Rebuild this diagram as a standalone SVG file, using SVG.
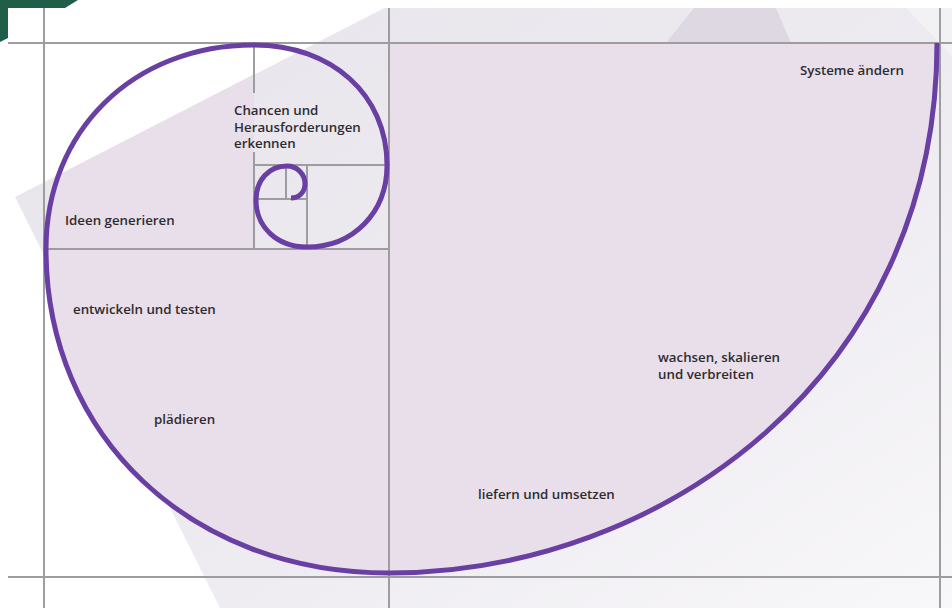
<svg xmlns="http://www.w3.org/2000/svg" width="952" height="608" viewBox="0 0 952 608">
  <defs>
    <linearGradient id="bgGrad" x1="0" y1="0" x2="1" y2="1">
      <stop offset="0" stop-color="#e7e4eb"/>
      <stop offset="0.6" stop-color="#eeecf1"/>
      <stop offset="1" stop-color="#f8f7f9"/>
    </linearGradient>
    <clipPath id="photo">
      <rect x="8" y="8" width="944" height="600"/>
    </clipPath>
    <clipPath id="diag">
      <polygon points="0,205 398,0 952,0 952,608 0,608"/>
    </clipPath>
    <style>
      .grid { stroke: #9d9d9f; stroke-width: 2; fill: none; }
      .spiral { stroke: #6a3fa3; stroke-width: 5; fill: none; stroke-linecap: butt; stroke-linejoin: round; }
      .lbl { font-family: "Open Sans", "DejaVu Sans", sans-serif; font-size: 13.3px; font-weight: 600; fill: #2f2c30; }
    </style>
  </defs>

  <rect x="0" y="0" width="952" height="608" fill="#ffffff"/>

  <g id="background" clip-path="url(#photo)">
    <polygon points="15,197 400,0 952,0 952,608 220,608" fill="url(#bgGrad)"/>
    <polygon points="666,43 694,8 776,8 791,43" fill="#ddd8e2"/>
    <polygon points="906,8 952,8 952,56" fill="#f2f1f4"/>
    <g clip-path="url(#diag)">
      <path d="M937,43 C937,375 663,573 389,573 C191,573 46,437 46,249 C46,131 133,45 254,45 L254,249 L389,249 L389,43 Z" fill="#e8dfea"/>
    </g>
  </g>

  <g id="grid">
    <line class="grid" x1="44" y1="8" x2="44" y2="608"/>
    <line class="grid" x1="389" y1="8" x2="389" y2="608"/>
    <line class="grid" x1="940" y1="8" x2="940" y2="608"/>
    <line class="grid" x1="8" y1="43" x2="952" y2="43"/>
    <line class="grid" x1="8" y1="577" x2="952" y2="577"/>
    <line class="grid" x1="44" y1="249" x2="389" y2="249"/>
    <line class="grid" x1="254" y1="43" x2="254" y2="93"/>
    <line class="grid" x1="254" y1="152" x2="254" y2="249"/>
    <line class="grid" x1="254" y1="165" x2="389" y2="165"/>
    <line class="grid" x1="307" y1="165" x2="307" y2="249"/>
    <line class="grid" x1="254" y1="199" x2="307" y2="199"/>
    <line class="grid" x1="286" y1="165" x2="286" y2="199"/>
  </g>

  <g id="connectors">
    <path class="spiral" d="M937,43 C937,375 663,573 389,573 C191,573 46,437 46,249 C46,131 133,45 254,45 C332,45 387,95 387,165 C387,213 353,247 307,247 C277,247 256,227 256,200 C256,180 269,166 287,166 C297,166 305,174 305,184 C305,192 299,198 291,198"/>
  </g>

  <g id="corner">
    <polygon points="0,0 78,0 65,8 8,8 8,38 0,42" fill="#215e47"/>
  </g>

  <g id="n-chancen">
    <text class="lbl" x="234" y="115">Chancen und<tspan x="234" dy="16.5">Herausforderungen</tspan><tspan x="234" dy="16.5">erkennen</tspan></text>
  </g>
  <g id="n-ideen"><text class="lbl" x="65" y="225">Ideen generieren</text></g>
  <g id="n-entwickeln"><text class="lbl" x="73" y="314">entwickeln und testen</text></g>
  <g id="n-plaedieren"><text class="lbl" x="154" y="424">plädieren</text></g>
  <g id="n-liefern"><text class="lbl" x="478" y="499">liefern und umsetzen</text></g>
  <g id="n-wachsen">
    <text class="lbl" x="658" y="362">wachsen, skalieren<tspan x="658" dy="17">und verbreiten</tspan></text>
  </g>
  <g id="n-systeme"><text class="lbl" x="800" y="75">Systeme ändern</text></g>
</svg>
